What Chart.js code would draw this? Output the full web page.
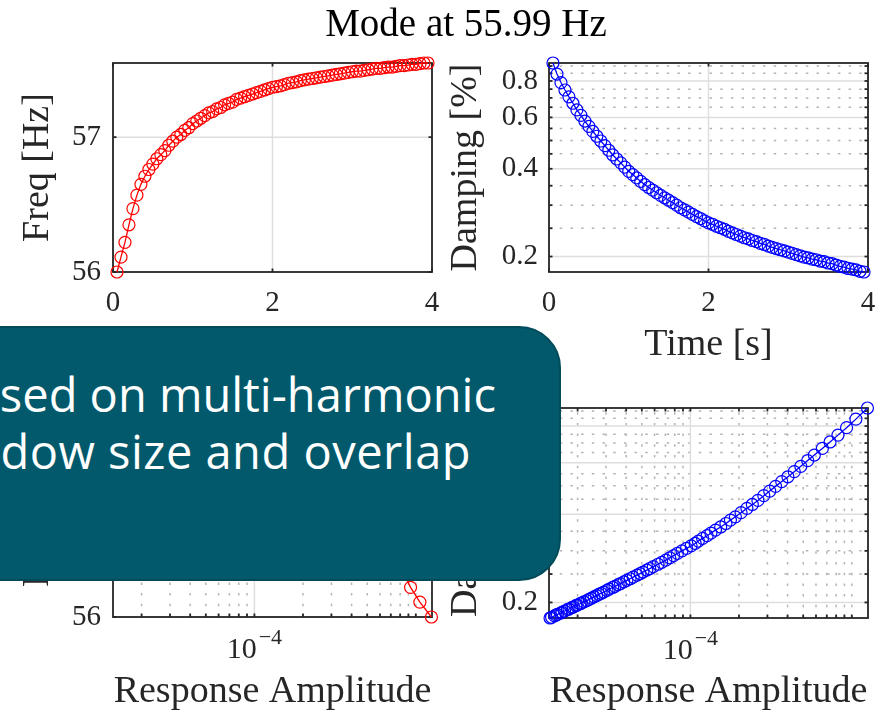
<!DOCTYPE html>
<html>
<head>
<meta charset="utf-8">
<script src="https://cdn.jsdelivr.net/npm/chart.js@4.4.1/dist/chart.umd.min.js"></script>
<style>
  html, body { margin: 0; padding: 0; background: #fff; }
  #fig { position: relative; width: 894px; height: 713px; overflow: hidden; background: #fff; }
  #fig canvas { position: absolute; left: 0; top: 0; }
  #title { position: absolute; left: 266px; width: 400px; top: 3px; text-align: center;
           font: 39px/1 'Liberation Serif', serif; color: #000; white-space: nowrap; }
  #note { position: absolute; left: -60px; top: 326px; width: 621px; height: 255px; box-sizing: border-box;
          background: #02596b; border: 2px solid #014b5a; border-radius: 42px; }
  .noteText { position: absolute; white-space: nowrap; color: #fff;
              font: 47px/1 'Open Sans', 'Noto Sans', sans-serif; }
</style>
</head>
<body>
<div id="fig">
  <canvas id="pTL" width="894" height="760"></canvas>
  <canvas id="pTR" width="894" height="760"></canvas>
  <canvas id="pBL" width="894" height="760"></canvas>
  <canvas id="pBR" width="894" height="760"></canvas>
  <div id="title">Mode at 55.99 Hz</div>
  <div id="note"></div>
  <div class="noteText" style="right:398px; top:371px;">sed on multi-harmonic</div>
  <div class="noteText" style="right:423px; top:428px; letter-spacing:0.5px;">dow size and overlap</div>
</div>
<script>
/* ---- values ---- */
const timeS = [
  0.05, 0.10, 0.15, 0.20, 0.25, 0.30, 0.35, 0.40, 0.45, 0.50,
  0.55, 0.60, 0.65, 0.70, 0.75, 0.80, 0.85, 0.90, 0.95, 1.00,
  1.05, 1.10, 1.15, 1.20, 1.25, 1.30, 1.35, 1.40, 1.45, 1.50,
  1.55, 1.60, 1.65, 1.70, 1.75, 1.80, 1.85, 1.90, 1.95, 2.00,
  2.05, 2.10, 2.15, 2.20, 2.25, 2.30, 2.35, 2.40, 2.45, 2.50,
  2.55, 2.60, 2.65, 2.70, 2.75, 2.80, 2.85, 2.90, 2.95, 3.00,
  3.05, 3.10, 3.15, 3.20, 3.25, 3.30, 3.35, 3.40, 3.45, 3.50,
  3.55, 3.60, 3.65, 3.70, 3.75, 3.80, 3.85, 3.90, 3.95
];
const freqHz = [
  56.00, 56.11, 56.22, 56.35, 56.47, 56.57, 56.65, 56.71, 56.76, 56.80,
  56.84, 56.87, 56.90, 56.94, 56.97, 57.00, 57.02, 57.05, 57.07, 57.10,
  57.12, 57.14, 57.16, 57.18, 57.19, 57.21, 57.22, 57.24, 57.25, 57.26,
  57.28, 57.29, 57.30, 57.31, 57.32, 57.33, 57.34, 57.35, 57.36, 57.37,
  57.375, 57.38, 57.39, 57.40, 57.405, 57.41, 57.42, 57.425, 57.43, 57.435,
  57.44, 57.445, 57.45, 57.455, 57.46, 57.465, 57.47, 57.475, 57.48, 57.485,
  57.49, 57.49, 57.495, 57.50, 57.505, 57.51, 57.51, 57.515, 57.52, 57.52,
  57.525, 57.53, 57.53, 57.535, 57.54, 57.54, 57.545, 57.55, 57.55
];
const dampPct = [
  0.922, 0.845, 0.790, 0.745, 0.706, 0.671, 0.637, 0.610, 0.583, 0.559,
  0.537, 0.517, 0.498, 0.480, 0.463, 0.446, 0.432, 0.419, 0.405, 0.392,
  0.382, 0.372, 0.362, 0.353, 0.345, 0.338, 0.331, 0.324, 0.318, 0.312,
  0.306, 0.300, 0.294, 0.289, 0.284, 0.279, 0.274, 0.270, 0.265, 0.261,
  0.258, 0.254, 0.251, 0.248, 0.244, 0.241, 0.238, 0.235, 0.232, 0.230,
  0.227, 0.225, 0.222, 0.220, 0.217, 0.215, 0.213, 0.211, 0.209, 0.207,
  0.205, 0.203, 0.201, 0.199, 0.198, 0.196, 0.195, 0.193, 0.192, 0.190,
  0.189, 0.187, 0.185, 0.184, 0.182, 0.181, 0.180, 0.178, 0.177
];
const respAmp = [
  1.25e-3, 1.06e-3, 9.28e-4, 8.21e-4, 7.33e-4, 6.57e-4, 5.86e-4, 5.33e-4, 4.83e-4, 4.40e-4,
  4.02e-4, 3.68e-4, 3.37e-4, 3.10e-4, 2.85e-4, 2.62e-4, 2.42e-4, 2.24e-4, 2.06e-4, 1.90e-4,
  1.77e-4, 1.66e-4, 1.54e-4, 1.43e-4, 1.34e-4, 1.27e-4, 1.19e-4, 1.12e-4, 1.07e-4, 1.01e-4,
  9.46e-5, 8.87e-5, 8.31e-5, 7.87e-5, 7.45e-5, 7.04e-5, 6.64e-5, 6.30e-5, 5.89e-5, 5.60e-5,
  5.37e-5, 5.08e-5, 4.88e-5, 4.68e-5, 4.42e-5, 4.23e-5, 4.04e-5, 3.87e-5, 3.69e-5, 3.57e-5,
  3.41e-5, 3.30e-5, 3.14e-5, 3.04e-5, 2.90e-5, 2.80e-5, 2.71e-5, 2.62e-5, 2.53e-5, 2.44e-5,
  2.36e-5, 2.28e-5, 2.19e-5, 2.11e-5, 2.07e-5, 1.99e-5, 1.95e-5, 1.88e-5, 1.84e-5, 1.77e-5,
  1.73e-5, 1.66e-5, 1.60e-5, 1.57e-5, 1.50e-5, 1.47e-5, 1.44e-5, 1.38e-5, 1.35e-5
];

const timeTicks = [0, 2, 4];
const freqTicks = [56, 57];
const dampTicks = [0.2, 0.4, 0.6, 0.8];
const dampMinorTicks = [0.25, 0.3, 0.35, 0.45, 0.5, 0.55, 0.65, 0.7, 0.75, 0.85, 0.9];
const ampTicks = [1e-4];
const ampMinorTicks = [2e-5, 3e-5, 4e-5, 5e-5, 6e-5, 7e-5, 8e-5, 9e-5,
                       2e-4, 3e-4, 4e-4, 5e-4, 6e-4, 7e-4, 8e-4, 9e-4, 1e-3];

/* ---- look ---- */
const SERIF = 'Liberation Serif';
const INK = '#262626';
const CW = 894, CH = 760;
const TICK_PX = 29;

function strokeLine(ctx, x1, y1, x2, y2) {
  ctx.beginPath(); ctx.moveTo(x1, y1); ctx.lineTo(x2, y2); ctx.stroke();
}

// MATLAB-ish axes: dotted minor grid, light major grid, box, inward ticks, 10^n labels
function matlabAxes(p) {
  return {
    id: 'matlabAxes',
    beforeDatasetsDraw(chart) {
      const { ctx, chartArea: a, scales: { x, y } } = chart;
      const X = v => x.getPixelForValue(v), Y = v => y.getPixelForValue(v);
      ctx.save();
      ctx.lineWidth = 1.5;
      ctx.strokeStyle = '#b4b4b4';
      ctx.setLineDash([2.5, 8.2]);
      p.xMinor.forEach(v => strokeLine(ctx, X(v), a.bottom, X(v), a.top));
      p.yMinor.forEach(v => strokeLine(ctx, a.left, Y(v), a.right, Y(v)));
      ctx.setLineDash([]);
      ctx.strokeStyle = '#dedede';
      p.xMajor.forEach(v => strokeLine(ctx, X(v), a.bottom, X(v), a.top));
      p.yMajor.forEach(v => strokeLine(ctx, a.left, Y(v), a.right, Y(v)));

      ctx.strokeStyle = INK;
      ctx.lineWidth = 1.8;
      ctx.strokeRect(a.left, a.top, a.right - a.left, a.bottom - a.top);
      const tl = 3.5;
      p.xMajor.concat(p.xMinor).forEach(v => {
        strokeLine(ctx, X(v), a.bottom, X(v), a.bottom - tl);
        strokeLine(ctx, X(v), a.top, X(v), a.top + tl);
      });
      p.yMajor.concat(p.yMinor).forEach(v => {
        strokeLine(ctx, a.left, Y(v), a.left + tl, Y(v));
        strokeLine(ctx, a.right, Y(v), a.right - tl, Y(v));
      });
      ctx.restore();
    },
    afterDraw(chart) {
      if (!p.pow) return;
      const { ctx, scales: { x } } = chart;
      ctx.save();
      ctx.fillStyle = INK;
      ctx.textAlign = 'left';
      ctx.textBaseline = 'alphabetic';
      p.xMajor.forEach(v => {
        const exp = '\u2212' + Math.abs(Math.round(Math.log10(v)));
        ctx.font = '30px ' + SERIF;
        const wBase = ctx.measureText('10').width;
        ctx.font = '22px ' + SERIF;
        const wExp = ctx.measureText(exp).width;
        const x0 = x.getPixelForValue(v) - (wBase + 2 + wExp) / 2;
        const base = p.box[3] + 41;
        ctx.font = '30px ' + SERIF;
        ctx.fillText('10', x0, base);
        ctx.font = '22px ' + SERIF;
        ctx.fillText(exp, x0 + wBase + 2, base - 14);
      });
      ctx.restore();
    }
  };
}

function plotPanel(id, p) {
  const [L, T, R, B] = p.box;
  return new Chart(document.getElementById(id), {
    type: 'line',
    data: {
      datasets: [{
        data: p.xs.map((v, i) => ({ x: v, y: p.ys[i] })),
        borderColor: p.color,
        borderWidth: 1.3,
        pointStyle: 'circle',
        pointRadius: 6,
        pointBorderWidth: 1.2,
        pointBorderColor: p.color,
        pointBackgroundColor: 'rgba(0,0,0,0)',
        fill: false,
        tension: 0,
        clip: false
      }]
    },
    options: {
      responsive: false,
      animation: false,
      devicePixelRatio: 1,
      events: [],
      layout: { padding: { left: 0, top: T, right: CW - R, bottom: 0 } },
      plugins: { legend: { display: false }, tooltip: { enabled: false } },
      scales: {
        x: {
          type: p.xType, min: p.xMin, max: p.xMax,
          afterBuildTicks: s => { s.ticks = p.xMajor.map(v => ({ value: v })); },
          afterFit: s => { s.height = CH - B; },
          grid: { display: false, drawTicks: false },
          border: { display: false },
          ticks: {
            autoSkip: false, maxRotation: 0, minRotation: 0, padding: 13.5, color: INK,
            font: { family: SERIF, size: TICK_PX },
            callback: v => p.pow ? '' : String(v)
          },
          title: {
            display: !!p.xTitle, text: p.xTitle || '', color: INK,
            font: { family: SERIF, size: 38 }, padding: { top: 0, bottom: p.xTitlePad || 0 }
          }
        },
        y: {
          type: p.yType, min: p.yMin, max: p.yMax,
          afterBuildTicks: s => { s.ticks = p.yMajor.map(v => ({ value: v })); },
          afterFit: s => { s.width = L; },
          grid: { display: false, drawTicks: false },
          border: { display: false },
          ticks: {
            autoSkip: false, padding: p.yTickPad, color: INK,
            font: { family: SERIF, size: TICK_PX },
            callback: v => String(v)
          },
          title: {
            display: true, text: p.yTitle, color: INK,
            font: { family: SERIF, size: 38 }, padding: { top: p.yTitlePad, bottom: 0 }
          }
        }
      }
    },
    plugins: [matlabAxes(p)]
  });
}

// top left: frequency vs time
plotPanel('pTL', {
  box: [113, 63, 432, 272], xs: timeS, ys: freqHz, color: '#ff0000',
  xType: 'linear', xMin: 0, xMax: 4, xMajor: timeTicks, xMinor: [],
  yType: 'linear', yMin: 56, yMax: 57.55, yMajor: freqTicks, yMinor: [],
  yTitle: 'Freq [Hz]', yTitlePad: 15.6, yTickPad: 12
});

// top right: damping vs time
plotPanel('pTR', {
  box: [549, 63, 868, 272], xs: timeS, ys: dampPct, color: '#0000ff',
  xType: 'linear', xMin: 0, xMax: 4, xMajor: timeTicks, xMinor: [],
  yType: 'logarithmic', yMin: 0.177, yMax: 0.922, yMajor: dampTicks, yMinor: dampMinorTicks,
  xTitle: 'Time [s]', xTitlePad: 391.7,
  yTitle: 'Damping [%]', yTitlePad: 442.9, yTickPad: 11
});

// bottom left: frequency vs amplitude
plotPanel('pBL', {
  box: [113, 408, 432, 617], xs: respAmp, ys: freqHz, color: '#ff0000',
  xType: 'logarithmic', xMin: 1.33e-5, xMax: 1.26e-3, xMajor: ampTicks, xMinor: ampMinorTicks, pow: true,
  yType: 'linear', yMin: 56, yMax: 57.55, yMajor: freqTicks, yMinor: [],
  xTitle: 'Response Amplitude', xTitlePad: 45,
  yTitle: 'Freq [Hz]', yTitlePad: 15.6, yTickPad: 12
});

// bottom right: damping vs amplitude
plotPanel('pBR', {
  box: [549, 408, 868, 618], xs: respAmp, ys: dampPct, color: '#0000ff',
  xType: 'logarithmic', xMin: 1.33e-5, xMax: 1.26e-3, xMajor: ampTicks, xMinor: ampMinorTicks, pow: true,
  yType: 'logarithmic', yMin: 0.177, yMax: 0.922, yMajor: dampTicks, yMinor: dampMinorTicks,
  xTitle: 'Response Amplitude', xTitlePad: 45,
  yTitle: 'Damping [%]', yTitlePad: 442.9, yTickPad: 11
});
</script>
</body>
</html>
